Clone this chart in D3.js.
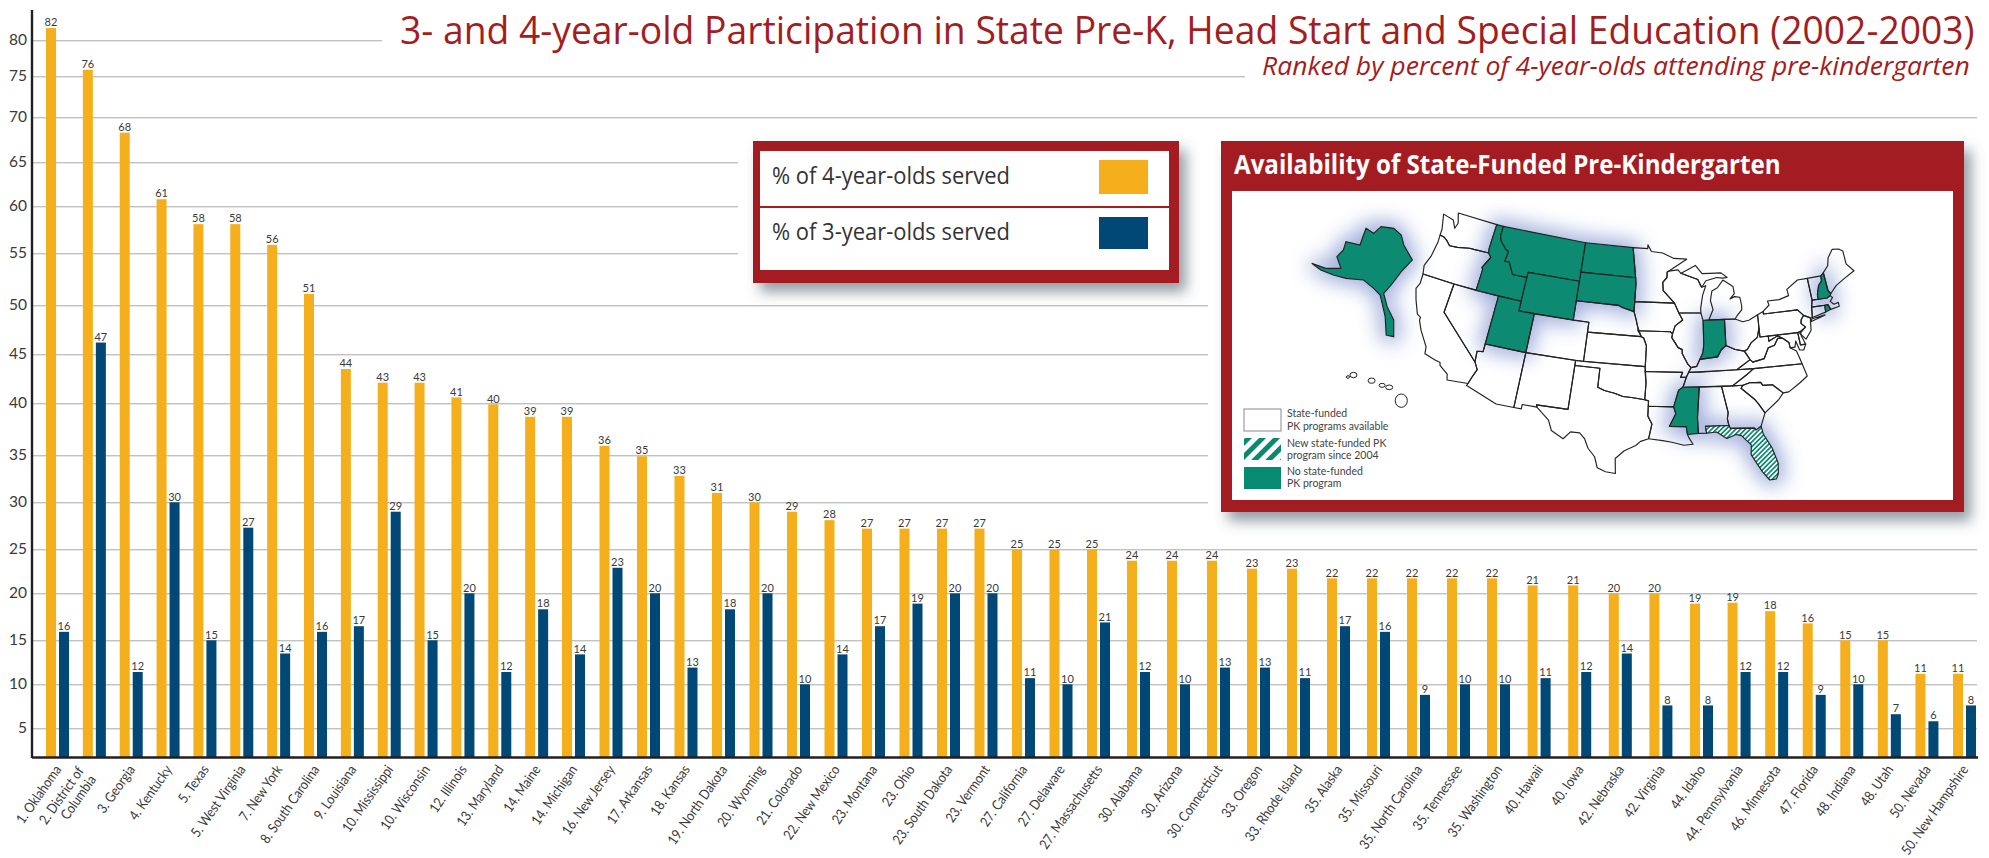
<!DOCTYPE html>
<html><head><meta charset="utf-8">
<script src="https://cdn.jsdelivr.net/npm/d3@7"></script>
<style>html,body{margin:0;background:#fff}svg{display:block}</style></head><body>
<script>
const names=["1. Oklahoma","2. District of|Columbia","3. Georgia","4. Kentucky","5. Texas","5. West Virginia","7. New York","8. South Carolina","9. Louisiana","10. Mississippi","10. Wisconsin","12. Illinois","13. Maryland","14. Maine","14. Michigan","16. New Jersey","17. Arkansas","18. Kansas","19. North Dakota","20. Wyoming","21. Colorado","22. New Mexico","23. Montana","23. Ohio","23. South Dakota","23. Vermont","27. California","27. Delaware","27. Massachusetts","30. Alabama","30. Arizona","30. Connecticut","33. Oregon","33. Rhode Island","35. Alaska","35. Missouri","35. North Carolina","35. Tennessee","35. Washington","40. Hawaii","40. Iowa","42. Nebraska","42. Virginia","44. Idaho","44. Pennsylvania","46. Minnesota","47. Florida","48. Indiana","48. Utah","50. Nevada","50. New Hampshire"];
const pct4=[81.7,75.9,68.3,60.8,58.1,58.1,55.9,51.1,43.5,42.1,42.1,40.6,39.9,38.7,38.7,35.9,34.9,32.8,31,30,29,28.1,27.2,27.2,27.2,27.2,25,25,25,23.7,23.7,23.7,22.8,22.8,21.7,21.7,21.7,21.7,21.7,20.9,20.9,20,20,18.9,19,18.1,16.8,15,15,11.2,11.2];
const pct3=[15.9,46.2,11.4,30,15,27.3,13.5,15.9,16.5,29,15,20,11.4,18.3,13.4,22.9,20,11.9,18.3,20,10,13.4,16.5,18.9,20,20,10.7,10,16.9,11.4,10,11.9,11.9,10.7,16.5,15.9,8.8,10,10,10.7,11.4,13.5,7.6,7.6,11.4,11.4,8.8,10,6.6,5.8,7.6];
const label4=[82,76,68,61,58,58,56,51,44,43,43,41,40,39,39,36,35,33,31,30,29,28,27,27,27,27,25,25,25,24,24,24,23,23,22,22,22,22,22,21,21,20,20,19,19,18,16,15,15,11,11];
const label3=[16,47,12,30,15,27,14,16,17,29,15,20,12,18,14,23,20,13,18,20,10,14,17,19,20,20,11,10,21,12,10,13,13,11,17,16,9,10,10,11,12,14,8,8,12,12,9,10,7,6,8];
const yTicks=[5,10,15,20,25,30,35,40,45,50,55,60,65,70,75,80];
const legendItems=["% of 4-year-olds served","% of 3-year-olds served"];
const title="3- and 4-year-old Participation in State Pre-K, Head Start and Special Education (2002-2003)";
const subtitle="Ranked by percent of 4-year-olds attending pre-kindergarten";
const mapTitle="Availability of State-Funded Pre-Kindergarten";
const noProgram=["ID","MT","WY","UT","ND","SD","IN","MS","NH","RI"];
const newProgram=["FL"];
const states={
WA:[[-124.7,48.4],[-123.1,48.15],[-122.5,47.4],[-122.3,48],[-122.8,49],[-117.03,49],[-117.04,46.42],[-116.92,45.99],[-119,45.93],[-119.6,45.92],[-121.2,45.65],[-122.3,45.55],[-122.8,45.9],[-123.4,46.2],[-124.05,46.27],[-124.1,46.9]],
OR:[[-124.05,46.27],[-123.4,46.2],[-122.8,45.9],[-122.3,45.55],[-121.2,45.65],[-119.6,45.92],[-119,45.93],[-116.92,45.99],[-116.46,45.6],[-116.9,44.9],[-117.2,44.4],[-117.03,44.2],[-117.03,42],[-120,42],[-124.21,42],[-124.5,42.85],[-124.1,44],[-123.95,45.5]],
CA:[[-124.21,42],[-120,42],[-120,39],[-114.63,35],[-114.14,34.3],[-114.5,33.4],[-114.72,32.72],[-117.12,32.53],[-117.3,33.1],[-118.4,33.75],[-118.5,34.03],[-119.2,34.15],[-120.5,34.45],[-120.65,35.15],[-121.9,36.6],[-122.5,37.5],[-122.5,37.8],[-123,38],[-123.8,39.3],[-124.35,40.4],[-124.1,41]],
NV:[[-120,42],[-114.04,42],[-114.04,36.2],[-114.74,36.1],[-114.63,35],[-120,39]],
ID:[[-117.03,49],[-116.05,49],[-116.05,48],[-115.7,47.45],[-114.75,46.75],[-114.35,46.65],[-114.5,45.56],[-113.9,45.65],[-113.45,45.05],[-113,44.45],[-111.05,44.48],[-111.05,42],[-117.03,42],[-117.03,44.2],[-117.2,44.4],[-116.9,44.9],[-116.46,45.6],[-116.92,45.99],[-117.04,46.42]],
MT:[[-116.05,49],[-104.05,49],[-104.05,45],[-111.05,45],[-111.05,44.48],[-113,44.45],[-113.45,45.05],[-113.9,45.65],[-114.5,45.56],[-114.35,46.65],[-114.75,46.75],[-115.7,47.45],[-116.05,48]],
WY:[[-111.05,45],[-104.05,45],[-104.05,41],[-111.05,41]],
UT:[[-114.04,42],[-111.05,42],[-111.05,41],[-109.05,41],[-109.05,37],[-114.04,37]],
CO:[[-109.05,41],[-102.05,41],[-102.05,37],[-109.05,37]],
AZ:[[-114.04,37],[-109.05,37],[-109.05,31.33],[-111.07,31.33],[-114.81,32.5],[-114.72,32.72],[-114.5,33.4],[-114.14,34.3],[-114.63,35],[-114.74,36.1],[-114.04,36.2]],
NM:[[-109.05,37],[-103,37],[-103.04,32],[-106.62,32],[-106.53,31.78],[-108.2,31.78],[-108.2,31.33],[-109.05,31.33]],
ND:[[-104.05,49],[-97.23,49],[-96.56,45.94],[-104.05,45.94]],
SD:[[-104.05,45.94],[-96.56,45.94],[-96.45,45.3],[-96.45,43.5],[-96.44,42.49],[-97.9,42.8],[-98.5,43],[-104.05,43]],
NE:[[-104.05,43],[-98.5,43],[-97.9,42.8],[-96.44,42.49],[-96.1,41.7],[-95.85,41],[-95.31,40],[-102.05,40],[-102.05,41],[-104.05,41]],
KS:[[-102.05,40],[-95.31,40],[-95,39.87],[-94.61,39.11],[-94.62,37],[-102.05,37]],
OK:[[-103,37],[-94.62,37],[-94.43,35.4],[-94.48,33.64],[-96,33.8],[-97,33.85],[-98,34.12],[-99.2,34.3],[-100,34.56],[-100,36.5],[-103,36.5]],
TX:[[-106.62,32],[-103.04,32],[-103,36.5],[-100,36.5],[-100,34.56],[-99.2,34.3],[-98,34.12],[-97,33.85],[-96,33.8],[-94.48,33.64],[-94.04,33.55],[-94.04,32],[-93.55,31.2],[-93.84,29.7],[-94.7,29.4],[-95.2,28.95],[-96.4,28.35],[-97.3,27.5],[-97.15,25.96],[-98.2,26.06],[-99.1,26.4],[-99.5,27.5],[-100.3,28.3],[-100.8,29.25],[-101.4,29.77],[-102.4,29.77],[-103.1,28.98],[-104.5,29.65],[-105,30.65],[-106.53,31.78]],
MN:[[-97.23,49],[-95.15,49],[-95.15,49.38],[-94.6,48.72],[-93,48.6],[-91.4,48.07],[-89.6,48],[-92.1,46.75],[-92.29,46.66],[-92.3,46.1],[-92.85,45.6],[-92.75,44.75],[-91.22,43.5],[-96.45,43.5],[-96.45,45.3],[-96.56,45.94]],
IA:[[-96.45,43.5],[-91.22,43.5],[-90.64,42.5],[-90.15,41.8],[-91.1,41.2],[-91.42,40.38],[-91.72,40.6],[-95.77,40.58],[-95.85,41],[-96.1,41.7],[-96.44,42.49]],
MO:[[-95.77,40.58],[-91.72,40.6],[-91.42,40.38],[-91.5,40],[-90.7,39],[-90.2,38.8],[-90.2,38.4],[-89.5,37.3],[-89.13,36.98],[-89.42,36.5],[-89.7,36],[-90.37,36],[-90.15,36.5],[-94.62,36.5],[-94.62,37],[-94.61,39.11],[-95,39.87],[-95.31,40]],
AR:[[-94.62,36.5],[-90.15,36.5],[-90.37,36],[-89.7,36],[-90.1,35],[-90.6,34.7],[-91.15,33],[-94.04,33],[-94.04,33.55],[-94.48,33.64],[-94.43,35.4]],
LA:[[-94.04,33],[-91.15,33],[-90.9,32.3],[-91.6,31],[-89.73,31],[-89.6,30.2],[-89.4,29.8],[-89,29.2],[-90,29.1],[-91.3,29.4],[-92.3,29.55],[-93.84,29.7],[-93.55,31.2],[-94.04,32]],
WI:[[-92.29,46.66],[-92.1,46.75],[-90.8,46.9],[-90.4,46.55],[-88.1,45.9],[-87.8,45.35],[-87.6,45.1],[-87.05,45.25],[-87.5,44.3],[-87.8,43],[-87.8,42.49],[-90.64,42.5],[-91.22,43.5],[-92.75,44.75],[-92.85,45.6],[-92.3,46.1]],
IL:[[-90.64,42.5],[-87.8,42.49],[-87.53,41.72],[-87.53,39.35],[-87.65,38.5],[-88.05,37.8],[-88.45,37.1],[-89.13,36.98],[-89.5,37.3],[-90.2,38.4],[-90.2,38.8],[-90.7,39],[-91.5,40],[-91.42,40.38],[-91.1,41.2],[-90.15,41.8]],
IN:[[-87.53,41.72],[-87.2,41.76],[-84.8,41.76],[-84.81,39.1],[-85.4,38.7],[-85.9,38],[-87,37.9],[-88.05,37.8],[-87.65,38.5],[-87.53,39.35]],
MIL:[[-86.8,41.76],[-84.8,41.76],[-83.45,41.73],[-83.15,42.05],[-82.5,42.6],[-82.45,43],[-82.6,43.9],[-83.3,44],[-83.9,43.8],[-83.3,44.3],[-83.4,45.05],[-84.7,45.75],[-85.5,45],[-86.25,44.7],[-86.5,43.7],[-86.2,42.8]],
MIU:[[-90.4,46.55],[-88.1,45.9],[-87.6,45.1],[-87,45.75],[-85.5,46.05],[-84.7,45.95],[-84.1,46],[-84.9,46.5],[-86.5,46.5],[-87.5,46.5],[-88.4,47.35],[-89.6,46.85]],
OH:[[-84.8,41.76],[-83.45,41.73],[-82.5,41.4],[-81.7,41.5],[-80.52,41.98],[-80.52,40.64],[-80.85,39.7],[-81.7,39.2],[-82.2,38.6],[-82.6,38.42],[-83.7,38.65],[-84.81,39.1]],
KY:[[-84.81,39.1],[-83.7,38.65],[-82.6,38.42],[-82,37.53],[-83.68,36.6],[-88.07,36.5],[-89.42,36.5],[-89.13,36.98],[-88.45,37.1],[-88.05,37.8],[-87,37.9],[-85.9,38],[-85.4,38.7]],
TN:[[-89.42,36.5],[-83.68,36.6],[-81.68,36.59],[-82.6,36],[-84.32,35],[-90.1,35],[-89.7,36]],
MS:[[-90.1,35],[-88.2,35],[-88.47,31.9],[-88.4,30.3],[-89.6,30.2],[-89.73,31],[-91.6,31],[-90.9,32.3],[-91.15,33],[-90.6,34.7]],
AL:[[-88.2,35],[-85.6,35],[-85,32.3],[-85.13,31.7],[-85,31],[-87.6,31],[-87.5,30.3],[-88.4,30.3],[-88.47,31.9]],
GA:[[-85.6,35],[-84.32,35],[-83.1,35],[-83.35,34.7],[-81.9,33.5],[-81.5,33],[-80.87,32.03],[-81.45,30.72],[-82.05,30.36],[-82.2,30.57],[-84.86,30.7],[-85,31],[-85.13,31.7],[-85,32.3]],
FL:[[-87.6,31],[-85,31],[-84.86,30.7],[-82.2,30.57],[-82.05,30.36],[-81.45,30.72],[-81.3,29.9],[-80.5,28.4],[-80.03,26.8],[-80.15,25.7],[-80.4,25.2],[-81.1,25.15],[-81.8,26.1],[-82.8,27.9],[-82.7,28.9],[-83.7,29.9],[-84.3,30.05],[-85.3,29.7],[-86.4,30.4],[-87.5,30.3]],
SC:[[-83.35,34.7],[-83.1,35],[-82.3,35.2],[-81,35.15],[-80.8,34.82],[-79.67,34.8],[-78.55,33.86],[-79.2,33.2],[-80.87,32.03],[-81.5,33],[-81.9,33.5]],
NC:[[-84.32,35],[-82.6,36],[-81.68,36.59],[-75.87,36.55],[-75.5,35.25],[-76.5,34.65],[-77.9,33.9],[-78.55,33.86],[-79.67,34.8],[-80.8,34.82],[-81,35.15],[-82.3,35.2],[-83.1,35]],
VA:[[-83.68,36.6],[-81.68,36.59],[-75.87,36.55],[-76,37],[-76.3,37.9],[-77,38.3],[-77.05,38.85],[-77.7,39.32],[-78.35,39.4],[-78.85,38.75],[-79.65,38.55],[-80.3,37.5],[-81.7,37.25],[-82,37.53]],
WV:[[-82.6,38.42],[-82.2,38.6],[-81.7,39.2],[-80.85,39.7],[-80.52,40.64],[-80.52,39.72],[-79.48,39.72],[-79.48,39.2],[-78.35,39.65],[-77.7,39.32],[-78.35,39.4],[-78.85,38.75],[-79.65,38.55],[-80.3,37.5],[-81.7,37.25],[-82,37.53]],
MD:[[-79.48,39.72],[-75.79,39.72],[-75.7,38.46],[-75.05,38.45],[-75.4,37.9],[-75.9,37.95],[-76.2,38.9],[-76.4,38.3],[-77,38.3],[-77.05,38.85],[-77.7,39.32],[-78.35,39.65],[-79.48,39.2]],
DE:[[-75.79,39.72],[-75.45,39.8],[-75.4,39.3],[-75.05,38.45],[-75.7,38.46]],
PA:[[-80.52,41.98],[-79.76,42.26],[-79.76,42],[-75.35,42],[-74.7,41.36],[-75.1,40.95],[-75.2,40.6],[-74.72,40.15],[-75.45,39.8],[-75.79,39.72],[-80.52,39.72],[-80.52,40.64]],
NY:[[-79.76,42],[-75.35,42],[-74.7,41.36],[-73.9,41],[-73.65,41],[-73.5,42.05],[-73.27,42.75],[-73.35,45],[-74.7,45],[-76.3,44.2],[-76.2,43.55],[-77.5,43.27],[-79.05,43.27],[-78.9,42.85],[-79.76,42.26]],
LI:[[-74,40.6],[-72,41.05],[-73.7,40.88]],
NJ:[[-74.7,41.36],[-75.1,40.95],[-75.2,40.6],[-74.72,40.15],[-75.55,39.6],[-74.9,38.95],[-74.1,39.75],[-74,40.45],[-73.9,41]],
CT:[[-73.65,41],[-73.5,42.05],[-71.8,42.02],[-71.85,41.32]],
RI:[[-71.8,42.02],[-71.38,42.02],[-71.15,41.5],[-71.85,41.32]],
MA:[[-73.5,42.05],[-73.27,42.75],[-71.3,42.7],[-70.85,42.88],[-70.6,42.65],[-71,42.3],[-70.6,41.95],[-70,42.05],[-70,41.65],[-71.15,41.5],[-71.38,42.02],[-71.8,42.02]],
VT:[[-73.35,45],[-71.5,45.02],[-71.55,44.5],[-72.05,44.1],[-72.45,43.2],[-72.46,42.73],[-73.27,42.75]],
NH:[[-71.5,45.02],[-71.08,45.3],[-70.98,43.4],[-70.7,43.07],[-70.85,42.88],[-71.3,42.7],[-72.46,42.73],[-72.45,43.2],[-72.05,44.1],[-71.55,44.5]],
ME:[[-71.08,45.3],[-70.3,45.9],[-70,46.7],[-69.2,47.45],[-68.3,47.35],[-67.8,47.05],[-67.8,45.7],[-67,44.85],[-68.5,44.3],[-69.8,43.75],[-70.7,43.07],[-70.98,43.4]]
};
// inset outline, in the map's own drawing units
const alaska=[[330,325],[345,340],[360,320],[385,325],[400,345],[405,375],[422,420],[400,455],[380,495],[365,520],[372,560],[385,600],[385,650],[370,645],[368,590],[362,550],[358,525],[345,505],[325,480],[290,475],[265,465],[240,450],[222,430],[250,445],[280,445],[272,410],[285,390],[290,365],[318,375],[325,345]];
const hawaii=[[294,771,3,4],[305,765,7,8],[341,782,7,8],[362,796,6,6],[376,802,7,7],[400,842,12,20]];

const W=1989,H=858;
const svg=d3.select("body").append("svg").attr("width",W).attr("height",H).style("font-family","Lato, 'Open Sans', sans-serif");
const defs=svg.append("defs");
const orange="#F5AF1C",blue="#014876",red="#A31D21",green="#078A72",ink="#3a3a3a",gridC="#a8a8a8",axisC="#231F20";
const sh=defs.append("filter").attr("id","shadow").attr("x","-10%").attr("y","-10%").attr("width","125%").attr("height","130%");
sh.append("feDropShadow").attr("dx",7).attr("dy",9).attr("stdDeviation",7).attr("flood-color","#4c5866").attr("flood-opacity",.6);
defs.append("filter").attr("id","glow").attr("x","-40%").attr("y","-40%").attr("width","180%").attr("height","180%").append("feGaussianBlur").attr("stdDeviation",10);
defs.append("filter").attr("id","soft").append("feGaussianBlur").attr("stdDeviation",.35);
const hatch=(id,size,bar)=>{const p=defs.append("pattern").attr("id",id).attr("patternUnits","userSpaceOnUse").attr("width",size).attr("height",size).attr("patternTransform","rotate(45)");
 p.append("rect").attr("width",size).attr("height",size).attr("fill","#fff");p.append("rect").attr("width",bar).attr("height",size).attr("fill",green);};
hatch("hatchFine",3.4,1.7);hatch("hatchWide",10,5);

// condense a text to the width it has in the print
const fitText=(sel,px,py,target)=>{const w=sel.node().getComputedTextLength();return sel.attr("transform",`translate(${px},${py}) scale(${target/w},1)`);};

const yDomain=[1.7,...yTicks];
const y=d3.scaleLinear().domain(yDomain).range([757.3,728.3,684.3,640.3,593.3,549.3,502.3,455.3,403.3,354.3,305.3,253.3,206.3,162.3,117.3,76.3,40.3]);
const x=d3.scaleLinear().domain([0,14,28,38,43,50]).range([46,562,1087,1487,1690,1953]);
const x1=d3.scaleBand().domain(["4","3"]).range([0,23]).paddingInner(3/13);
const groupMid=x1.range()[1]/2;

const gridG=svg.append("g").attr("transform","translate(33,0)").call(d3.axisLeft(y).tickValues(yTicks).tickSize(-(1977-33)).tickPadding(6));
gridG.select(".domain").remove();
gridG.selectAll("line").attr("stroke",gridC).attr("stroke-width",1);
gridG.selectAll("text").attr("fill",ink).attr("font-size",15.5).attr("font-family","Lato, sans-serif").attr("dy","0.30em");

[[382,0,1607,60],[1245,60,744,32],[738,130,470,160],[1208,130,781,392]].forEach(r=>svg.append("rect").attr("x",r[0]).attr("y",r[1]).attr("width",r[2]).attr("height",r[3]).attr("fill","#fff"));

const idx=d3.range(names.length);
const series=[{k:"4",v:pct4,l:label4,c:orange},{k:"3",v:pct3,l:label3,c:blue}];
series.forEach(s=>{
 const g=svg.append("g");
 g.selectAll("rect").data(idx).join("rect").attr("x",i=>x(i)+x1(s.k)).attr("width",x1.bandwidth())
  .attr("y",i=>y(s.v[i])).attr("height",i=>y(yDomain[0])-y(s.v[i])).attr("fill",s.c);
 g.selectAll("text").data(idx).join("text").attr("x",i=>x(i)+x1(s.k)+x1.bandwidth()/2).attr("y",i=>y(s.v[i])-1.8)
  .attr("text-anchor","middle").attr("font-size",11).attr("fill",ink).text(i=>s.l[i]);
});

svg.append("line").attr("x1",32).attr("x2",32).attr("y1",10).attr("y2",758).attr("stroke",axisC).attr("stroke-width",2.4);
const xG=svg.append("g").attr("transform",`translate(${groupMid},757.5)`)
 .call(d3.axisBottom(x).tickValues(idx).tickFormat(i=>names[i]).tickSize(0));
xG.select(".domain").remove();
xG.selectAll("text").each(function(i){
 const t=d3.select(this),parts=names[i].split("|");
 t.text(null).attr("y",0).attr("dy",0).attr("x",0).attr("text-anchor","end").attr("fill",ink).attr("font-size",14).attr("font-family","Lato, sans-serif")
  .attr("transform","translate(4,12) rotate(-55) scale(.87,1)");
 parts.forEach((p,j)=>t.append("tspan").attr("x",parts.length>1?-11:0).attr("y",parts.length>1?-11+j*15:0).text(p));
});
svg.append("line").attr("x1",32).attr("x2",1978).attr("y1",757.5).attr("y2",757.5).attr("stroke",axisC).attr("stroke-width",2.4);

fitText(svg.append("text").attr("font-family","'Open Sans'").attr("font-size",38).attr("fill",red).text(title),400,44,1575);
fitText(svg.append("text").attr("font-family","'Open Sans'").attr("font-style","italic").attr("font-size",26).attr("fill",red).text(subtitle),1262,75,708);

svg.append("rect").attr("x",753).attr("y",141).attr("width",426).attr("height",142).attr("fill",red).attr("filter","url(#shadow)");
svg.append("rect").attr("x",760).attr("y",151).attr("width",409).attr("height",119).attr("fill","#fff");
svg.append("rect").attr("x",760).attr("y",206).attr("width",409).attr("height",2).attr("fill",red);
const lg=[{y:184,c:orange,sy:160,sh:34},{y:240,c:blue,sy:217,sh:32}];
lg.forEach((d,i)=>{
 fitText(svg.append("text").attr("font-family","'Open Sans'").attr("font-size",23).attr("fill","#333").text(legendItems[i]),772,d.y,238);
 svg.append("rect").attr("x",1099).attr("y",d.sy).attr("width",49).attr("height",d.sh).attr("fill",d.c);
});

svg.append("rect").attr("x",1221).attr("y",141).attr("width",743).attr("height",371).attr("fill",red).attr("filter","url(#shadow)");
svg.append("rect").attr("x",1232).attr("y",191).attr("width",721).attr("height",309).attr("fill","#fff");
fitText(svg.append("text").attr("font-family","'Open Sans'").attr("font-weight",700).attr("font-size",26).attr("fill","#fff").text(mapTitle),1234,174,547);

const allPts=Object.values(states).flat();
const proj=d3.geoAlbers().rotate([90,0]).center([0,38]).scale(1000).translate([0,0]);
const projected=allPts.map(p=>proj(p));
const mx=d3.scaleLinear().domain(d3.extent(projected,p=>p[0])).range([1416,1854]);
const my=d3.scaleLinear().domain(d3.extent(projected,p=>p[1])).range([213,480]);
const ringPath=r=>d3.line()(r.map(p=>{const q=proj(p);return [mx(q[0]),my(q[1])];}))+"Z";
const insetX=d3.scaleLinear().domain([0,1568]).range([1200,1989]);
const insetY=d3.scaleLinear().domain([0,1200]).range([120,520]);
const alaskaPath=d3.line()(alaska.map(p=>[insetX(p[0]),insetY(p[1])]))+"Z";
defs.append("clipPath").attr("id","mapClip").append("rect").attr("x",1232).attr("y",191).attr("width",721).attr("height",309);
const mapG=svg.append("g").attr("clip-path","url(#mapClip)");
const fillG=mapG.append("g");
Object.keys(states).forEach(k=>fillG.append("path").attr("d",ringPath(states[k])).attr("fill","#fff"));
const glowG=mapG.append("g").attr("filter","url(#glow)").attr("opacity",.5);
[...noProgram,...newProgram].forEach(k=>glowG.append("path").attr("d",ringPath(states[k])).attr("fill","#3f5cb8").attr("stroke","#3f5cb8").attr("stroke-width",12));
glowG.append("path").attr("d",alaskaPath).attr("fill","#3f5cb8").attr("stroke","#3f5cb8").attr("stroke-width",12);
const stG=mapG.append("g").attr("filter","url(#soft)");
Object.keys(states).forEach(k=>{
 const f=noProgram.includes(k)?green:newProgram.includes(k)?"url(#hatchFine)":"none";
 stG.append("path").attr("d",ringPath(states[k])).attr("fill",f).attr("stroke","#222").attr("stroke-width",1.15).attr("stroke-linejoin","round");
});
stG.append("path").attr("d",alaskaPath).attr("fill",green).attr("stroke","#222").attr("stroke-width",1.15);
hawaii.forEach(h=>stG.append("ellipse").attr("cx",insetX(h[0])).attr("cy",insetY(h[1])).attr("rx",h[2]/1.987).attr("ry",h[3]/3).attr("fill","#fff").attr("stroke","#222").attr("stroke-width",1));

const keyRows=[{y:409,h:22,f:"#fff",s:"#8a8a8a",t:["State-funded","PK programs available"],b:[417,430]},
 {y:438,h:22,f:"url(#hatchWide)",s:"none",t:["New state-funded PK","program since 2004"],b:[447,459]},
 {y:467,h:22,f:green,s:"none",t:["No state-funded","PK program"],b:[475,487]}];
keyRows.forEach(r=>{
 svg.append("rect").attr("x",1244).attr("y",r.y).attr("width",37).attr("height",r.h).attr("fill",r.f).attr("stroke",r.s);
 r.t.forEach((l,i)=>svg.append("text").attr("x",1287).attr("y",r.b[i]).attr("font-size",10.5).attr("fill","#444").text(l));
});
</script></body></html>
